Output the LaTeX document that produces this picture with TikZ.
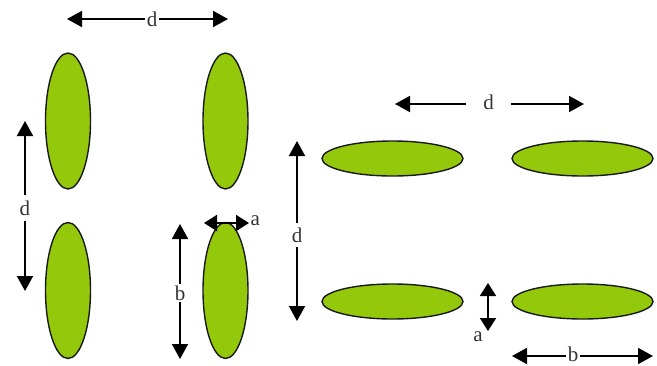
\documentclass[tikz,border=0pt]{standalone}
\usepackage{fontspec}
\setmainfont{Liberation Serif}
\usetikzlibrary{shapes.geometric,arrows.meta}
\definecolor{leafgreen}{RGB}{148,200,10}
\tikzset{
  leaf/.style={ellipse, draw=black!90, line width=1.4pt, fill=leafgreen, inner sep=0pt},
  vleaf/.style={leaf, minimum width=45pt, minimum height=136pt},
  hleaf/.style={leaf, minimum width=141pt, minimum height=35pt},
  dimline/.style={line width=1.9pt, -{Triangle[length=15pt,width=16pt]}},
  dimboth/.style={line width=1.9pt, {Triangle[length=13pt,width=16pt]}-{Triangle[length=13pt,width=16pt]}},
  lbl/.style={font=\fontsize{21}{23}\selectfont, text=black!80, inner sep=1.5pt}
}
\begin{document}
\begin{tikzpicture}[x=1pt,y=-1pt]
\useasboundingbox (0,0) rectangle (657,365);
% left group
\node[vleaf] (e1) at (68,121) {};
\node[vleaf] (e2) at (225.5,121) {};
\node[vleaf] (e3) at (68,290.5) {};
\node[vleaf] (e4) at (225.5,290.5) {};
% right group
\node[hleaf] (h1) at (392.5,158.5) {};
\node[hleaf] (h2) at (582.5,158.5) {};
\node[hleaf] (h3) at (392.5,301.5) {};
\node[hleaf] (h4) at (582.5,301.5) {};

% top left d
\coordinate (tl1) at (67,19);
\coordinate (tl2) at (228,19);
\node[lbl] (dtop) at (152,19) {d};
\draw[dimline] (dtop) -- (tl1);
\draw[dimline] (dtop) -- (tl2);

% left vertical d
\coordinate (lv1) at (25,121);
\coordinate (lv2) at (25,291);
\node[lbl, inner ysep=5pt] (dleft) at (25,208) {d};
\draw[dimline] (dleft) -- (lv1);
\draw[dimline] (dleft) -- (lv2);

% b left
\coordinate (bl1) at (180,224);
\coordinate (bl2) at (180,359);
\node[lbl] (bleft) at (180,293) {b};
\draw[dimline] (bleft) -- (bl1);
\draw[dimline] (bleft) -- (bl2);

% a left
\coordinate (al1) at (204,223);
\coordinate (al2) at (249,223);
\draw[dimboth] (al1) -- (al2);
\node[lbl, anchor=west] (aleft) at (249,221) {a};

% right top d
\coordinate (rt1) at (395,104);
\coordinate (rt2) at (584,104);
\node[lbl, inner xsep=17pt] (dright) at (488.5,102) {d};
\draw[dimline] (dright.east |- rt2) -- (rt2);
\draw[dimline] (dright.west |- rt1) -- (rt1);

% right vertical d
\coordinate (rv1) at (297,141);
\coordinate (rv2) at (297,321);
\node[lbl, inner ysep=4pt] (dvert) at (297,235) {d};
\draw[dimline] (dvert) -- (rv1);
\draw[dimline] (dvert) -- (rv2);

% a right
\coordinate (ar1) at (488,283);
\coordinate (ar2) at (488,331);
\draw[dimboth] (ar1) -- (ar2);
\node[lbl] (aright) at (478,337) {a};

% b right
\coordinate (br1) at (512,356);
\coordinate (br2) at (653,356);
\node[lbl] (bright) at (573,354) {b};
\draw[dimline] (bright.west |- br1) -- (br1);
\draw[dimline] (bright.east |- br2) -- (br2);
\end{tikzpicture}
\end{document}
